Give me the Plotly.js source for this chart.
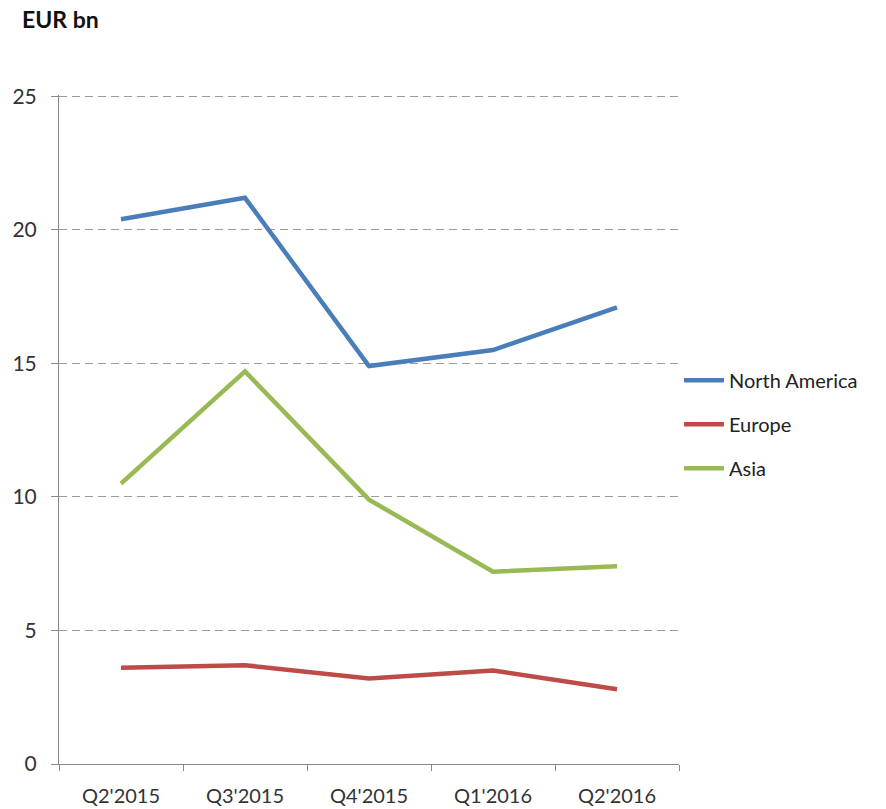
<!DOCTYPE html>
<html>
<head>
<meta charset="utf-8">
<script src="https://cdn.plot.ly/plotly-3.0.1.min.js"></script>
<style>
  html, body { margin: 0; padding: 0; background: #ffffff; }
  #chart { width: 886px; height: 809px; }
</style>
</head>
<body>
<div id="chart"></div>
<script>
// Quarterly volumes by region, EUR bn
const quarters = ["Q2'2015", "Q3'2015", "Q4'2015", "Q1'2016", "Q2'2016"];
const northAmerica = [20.4, 21.2, 14.9, 15.5, 17.1];
const europe = [3.6, 3.7, 3.2, 3.5, 2.8];
const asia = [10.5, 14.7, 9.9, 7.2, 7.4];

const seriesNames = ['North America', 'Europe', 'Asia'];
const seriesColors = ['#4A7EBB', '#BE4B48', '#98B954'];
const seriesValues = [northAmerica, europe, asia];

const font = 'Lato, "Open Sans", sans-serif';

const traces = seriesValues.map((vals, i) => ({
  type: 'scatter',
  mode: 'lines',
  name: seriesNames[i],
  legendgroup: 'g' + i,
  x: quarters,
  y: vals,
  line: { color: seriesColors[i], width: 4.5 },
  hoverinfo: 'x+y+name'
}));

const layout = {
  width: 886,
  height: 809,
  paper_bgcolor: '#ffffff',
  plot_bgcolor: '#ffffff',
  margin: { l: 59, r: 207, t: 95, b: 45 },
  font: { family: font, size: 20, color: '#333333' },
  title: {
    text: '<b>EUR bn</b>',
    font: { family: font, size: 23, color: '#111111' },
    x: 22 / 886, xanchor: 'left', xref: 'container',
    y: 1 - 20 / 809, yanchor: 'middle', yref: 'container'
  },
  xaxis: {
    type: 'category',
    range: [-0.5, quarters.length - 0.5],
    tickson: 'boundaries',
    ticks: 'outside',
    ticklen: 6,
    tickcolor: '#888888',
    ticklabelstandoff: 14,
    showline: true,
    linecolor: '#888888',
    linewidth: 1,
    showgrid: false,
    zeroline: false,
    tickfont: { family: font, size: 20, color: '#333333' },
    fixedrange: true
  },
  yaxis: {
    // a hair above 25 so the top dashed gridline is drawn
    range: [0, 25.05],
    tickvals: [0, 5, 10, 15, 20, 25],
    ticks: 'outside',
    ticklen: 7,
    tickcolor: '#888888',
    ticklabelstandoff: 10,
    showline: true,
    linecolor: '#888888',
    linewidth: 1,
    showgrid: true,
    gridcolor: '#9a9a9a',
    griddash: '8px,5px',
    gridwidth: 1,
    zeroline: false,
    tickfont: { family: font, size: 21, color: '#333333' },
    fixedrange: true
  },
  showlegend: true,
  legend: {
    x: 1.0, xanchor: 'left',
    y: 0.508, yanchor: 'middle',
    font: { family: font, size: 20, color: '#222222' },
    tracegroupgap: 15,
    bgcolor: 'rgba(0,0,0,0)',
    itemwidth: 40
  }
};

Plotly.newPlot('chart', traces, layout, { displayModeBar: false, staticPlot: true });
</script>
</body>
</html>
